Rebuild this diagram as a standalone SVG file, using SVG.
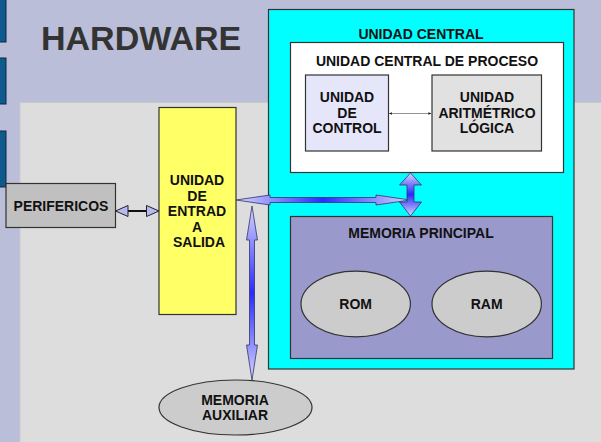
<svg xmlns="http://www.w3.org/2000/svg" width="601" height="442" viewBox="0 0 601 442">
<style>
text{font-family:"Liberation Sans",Arial,sans-serif;font-weight:bold;font-size:14px;fill:#111;text-anchor:middle}
.box{stroke:#333;stroke-width:1.2}
.tab{fill:#0f5a8c;stroke:#0a2a40;stroke-width:1}
.blk{stroke:#333366;stroke-width:0.8}
.head{fill:#b8b8f2;stroke:#222;stroke-width:1}
</style>
<defs>
<linearGradient id="gh" x1="0" y1="0" x2="1" y2="0">
<stop offset="0" stop-color="#d6d6ff"/><stop offset="0.5" stop-color="#2a2aff"/><stop offset="1" stop-color="#d6d6ff"/>
</linearGradient>
<linearGradient id="gv" x1="0" y1="0" x2="0" y2="1">
<stop offset="0" stop-color="#d6d6ff"/><stop offset="0.5" stop-color="#2a2aff"/><stop offset="1" stop-color="#d6d6ff"/>
</linearGradient>
<marker id="sm" viewBox="0 0 10 10" refX="10" refY="5" markerWidth="4" markerHeight="4" orient="auto-start-reverse">
<path d="M0,1 L10,5 L0,9 Z" fill="#222"/>
</marker>
</defs>
<rect x="0" y="0" width="601" height="442" fill="#babed8"/>
<rect x="20" y="102.5" width="590" height="350" fill="#dddddd" stroke="#c9c9c9" stroke-width="1"/>
<rect class="tab" x="-2" y="-2" width="8" height="44"/>
<rect class="tab" x="-2" y="58" width="8" height="46"/>
<rect class="tab" x="-2" y="131" width="8" height="56"/>
<text x="41" y="50" style="font-size:34px;fill:#333;text-anchor:start">HARDWARE</text>

<g id="unidad-central">
<rect class="box" x="268.5" y="9.5" width="305.5" height="359.5" fill="#00ffff"/>
<text x="421" y="39">UNIDAD CENTRAL</text>
</g>
<g id="cpu">
<rect class="box" x="290.5" y="42.5" width="273" height="130" fill="#ffffff"/>
<text x="427" y="66">UNIDAD CENTRAL DE PROCESO</text>
</g>
<g id="control">
<rect class="box" x="305.5" y="75" width="83" height="76" fill="#e6e6fa"/>
<text x="347" y="102">UNIDAD</text>
<text x="347" y="117.5">DE</text>
<text x="347" y="133">CONTROL</text>
</g>
<g id="alu">
<rect class="box" x="432" y="75" width="109.5" height="76" fill="#e1e1e1"/>
<text x="487" y="102">UNIDAD</text>
<text x="487" y="117.5">ARITMÉTRICO</text>
<text x="487" y="133">LÓGICA</text>
</g>
<g id="memoria-principal">
<rect class="box" x="290.5" y="216.5" width="262" height="142" fill="#9999cc"/>
<text x="421" y="238">MEMORIA PRINCIPAL</text>
</g>
<g id="rom">
<ellipse class="box" cx="355.7" cy="304" rx="54.7" ry="32.8" fill="#cccccc"/>
<text x="355.7" y="309">ROM</text>
</g>
<g id="ram">
<ellipse class="box" cx="486.7" cy="304" rx="54.7" ry="32.8" fill="#cccccc"/>
<text x="486.7" y="309">RAM</text>
</g>
<g id="perifericos">
<rect class="box" x="6" y="183.5" width="109.5" height="44" fill="#c0c0c0"/>
<text x="61" y="211">PERIFERICOS</text>
</g>
<g id="entrada-salida">
<rect class="box" x="159" y="107.5" width="77" height="207" fill="#ffff66"/>
<text x="197" y="185">UNIDAD</text>
<text x="197" y="200.5">DE</text>
<text x="197" y="216">ENTRAD</text>
<text x="197" y="231.5">A</text>
<text x="199" y="247">SALIDA</text>
</g>
<g id="memoria-auxiliar">
<ellipse class="box" cx="235.5" cy="407.5" rx="76.5" ry="27.5" fill="#cccccc"/>
<text x="235" y="404.5">MEMORIA</text>
<text x="235" y="419.5">AUXILIAR</text>
</g>

<g id="connectors">
<line x1="127" y1="211" x2="148" y2="211" stroke="#111" stroke-width="2"/>
<path class="head" d="M115.5,211 L128,205.5 L128,216.5 Z"/>
<path class="head" d="M159,211 L146.5,205.5 L146.5,216.5 Z"/>
<line x1="389" y1="113.5" x2="431.5" y2="113.5" stroke="#777" stroke-width="0.8" marker-start="url(#sm)" marker-end="url(#sm)"/>
<path class="blk" fill="url(#gh)" d="M236,200 L270,195 L270,197.5 L376,197.5 L376,195 L410,200 L376,205 L376,202.5 L270,202.5 L270,205 Z"/>
<path class="blk" fill="url(#gv)" d="M410.5,173 L421.5,185 L414,185 L414,202 L421.5,202 L410.5,216 L399.5,202 L407,202 L407,185 L399.5,185 Z"/>
<path class="blk" fill="url(#gv)" d="M252,206 L257.5,240 L254.5,240 L254.5,345 L257.5,345 L252,380 L246.5,345 L249.5,345 L249.5,240 L246.5,240 Z"/>
</g>
</svg>
